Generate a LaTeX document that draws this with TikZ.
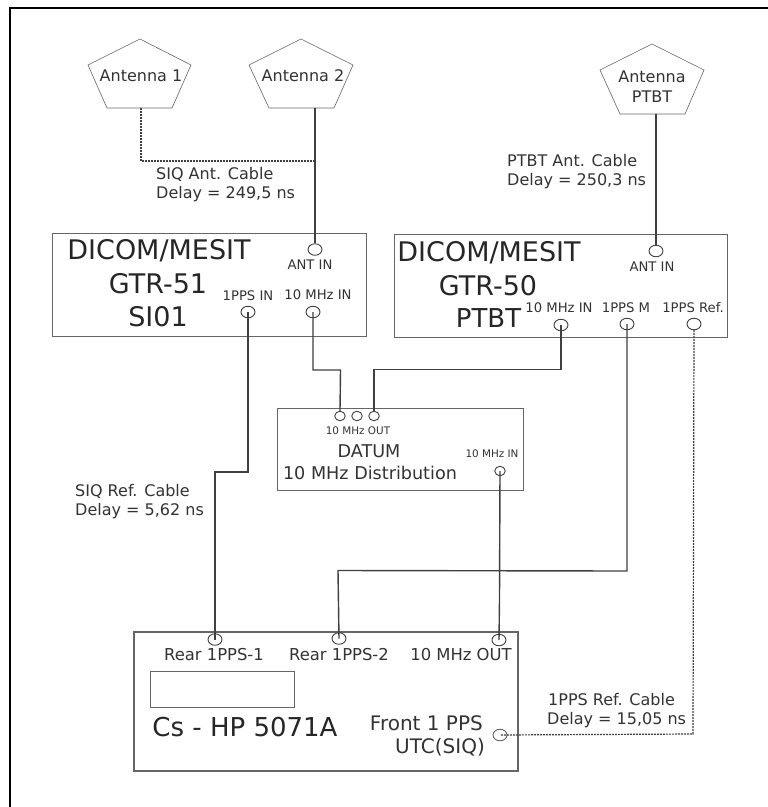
\documentclass[tikz,border=0pt]{standalone}
\usepackage{fontspec}
\setmainfont{DejaVu Sans}
\usetikzlibrary{shapes.geometric}
\definecolor{linec}{HTML}{404040}
\definecolor{boxc}{HTML}{666666}
\definecolor{textc}{HTML}{333333}
\tikzset{
  x=1pt,y=-1pt,
  box/.style={draw=boxc,line width=1pt},
  ant/.style={draw=boxc,line width=0.6pt,fill=white},
  wire/.style={draw=linec,line width=1.4pt},
  dotw/.style={draw=linec,line width=1.2pt,dash pattern=on 2pt off 1pt},
  port/.style={ellipse,draw=linec,line width=0.9pt,minimum width=14pt,minimum height=11.5pt,inner sep=0pt},
  tiny/.style={inner sep=0pt,text=textc,font=\fontsize{13.2}{15}\selectfont},
  tinier/.style={inner sep=0pt,text=textc,font=\fontsize{10.4}{12}\selectfont},
  mid/.style={inner sep=0pt,text=textc,font=\fontsize{16}{18}\selectfont},
  midleft/.style={mid,anchor=west},
  midright/.style={mid,anchor=east},
  rear/.style={inner sep=0pt,text=textc,font=\fontsize{16.4}{18}\selectfont},
  big/.style={inner sep=0pt,text=black!85,font=\fontsize{27}{30}\selectfont},
  dist/.style={inner sep=0pt,text=textc,font=\fontsize{17.6}{20}\selectfont},
}
\begin{document}
\begin{tikzpicture}
\useasboundingbox (0,0) rectangle (768,807);
\fill[white] (0,0) rectangle (768,807);
% outer frame
\coordinate (fa) at (10,807);
\coordinate (fb) at (10,8);
\coordinate (fc) at (768,8);
\draw[black,line width=1.8pt] (fa) -- (fb) -- (fc);

% antennas
\coordinate (a1b) at (141,108);
\coordinate (a2b) at (315,108);
\coordinate (apb) at (656,114);
\draw[ant] (140,39) -- (191,65) -- (172,108) -- (107,108) -- (88,65) -- cycle;
\draw[ant] (301,39) -- (353,65) -- (334,108) -- (269,108) -- (249,65) -- cycle;
\draw[ant] (652,44) -- (704,70) -- (685,114) -- (620,114) -- (600,70) -- cycle;
\node[mid] (t1) at (141,76) {Antenna 1};
\node[mid] (t2) at (303,76) {Antenna 2};
\node[mid] (t3) at (652,77) {Antenna};
\node[mid] (t4) at (652,97) {PTBT};

% boxes
\draw[box] (52,233) rectangle (366,336);
\draw[box] (394,234) rectangle (727,337);
\draw[box,line width=0.8pt] (277,408) rectangle (523,490);
\draw[box,line width=1.2pt] (134,632) rectangle (518,771);
\draw[box] (150,671) rectangle (294,707);

% ports
\node[port] (antin1) at (315,249.5) {};
\node[port] (pps1) at (248,312) {};
\node[port] (mhz1) at (313,312) {};
\node[port] (antin2) at (656,251) {};
\node[port] (mhz2) at (561,325) {};
\node[port] (ppsm) at (627,324) {};
\node[port] (ppsr) at (694,324) {};
\node[port,minimum width=10.5pt,minimum height=9.5pt] (d1) at (340,416) {};
\node[port,minimum width=10.5pt,minimum height=9.5pt] (d2) at (357,416) {};
\node[port,minimum width=10.5pt,minimum height=9.5pt] (d3) at (374,416) {};
\node[port,minimum width=10.5pt,minimum height=9.5pt] (din) at (500,471) {};
\node[port] (r1) at (215,639.5) {};
\node[port] (r2) at (339,638.5) {};
\node[port] (mout) at (499,640) {};
\node[port,draw=boxc] (front) at (500,735) {};

% connectors
\coordinate (j) at (315,161);
\draw[dotw] (a1b) -- (141,161) -- (j);
\draw[wire] (a2b) -- (antin1.north);
\draw[wire] (apb) -- (antin2.north);
\draw[wire] (pps1.center) -- (248,472) -- (215,472) -- (r1.center);
\draw[wire] (mhz1.center) -- (313,370) -- (340.5,370) -- (d1.north);
\draw[wire] (mhz2.center) -- (561,369.5) -- (374,369.5) -- (d3.north);
\draw[wire] (din.center) -- (499.5,600) -- (mout.center);
\draw[wire] (ppsm.center) -- (627,571) -- (338,570.5) -- (r2.center);
\draw[dotw] (ppsr.south) -- (693,734) -- (front.center);

% labels
\node[midleft] (l1) at (156,174) {SIQ Ant. Cable};
\node[midleft] (l2) at (156,194) {Delay = 249,5 ns};
\node[midleft] (l3) at (507,161) {PTBT Ant. Cable};
\node[midleft] (l4) at (507,181) {Delay = 250,3 ns};
\node[midleft] (l5) at (75,491) {SIQ Ref. Cable};
\node[midleft] (l6) at (75,511) {Delay = 5,62 ns};
\node[midleft] (l7) at (548,700) {1PPS Ref. Cable};
\node[midleft] (l8) at (547,720) {Delay = 15,05 ns};

\node[big] (g1) at (159,251) {DICOM/MESIT};
\node[big] (g2) at (158,284) {GTR-51};
\node[big] (g3) at (158,317) {SI01};
\node[tiny] (p1) at (310,265) {ANT IN};
\node[tiny] (p2) at (248,296) {1PPS IN};
\node[tiny] (p3) at (318,295) {10 MHz IN};

\node[big] (h1) at (489,253) {DICOM/MESIT};
\node[big] (h2) at (488,286) {GTR-50};
\node[big,font=\fontsize{26}{30}\selectfont] (h3) at (488.5,318) {PTBT};
\node[tiny] (q1) at (652,267) {ANT IN};
\node[tiny] (q2) at (559,308) {10 MHz IN};
\node[tiny] (q3) at (626,308) {1PPS M};
\node[tiny] (q4) at (693,308) {1PPS Ref.};

\node[tinier] (d1t) at (358,431) {10 MHz OUT};
\node[dist] (d2t) at (369,451) {DATUM};
\node[dist] (d3t) at (370,473) {10 MHz Distribution};
\node[tinier] (d4t) at (492,454) {10 MHz IN};

\node[rear] (c1) at (214,655) {Rear 1PPS-1};
\node[rear] (c2) at (339,655) {Rear 1PPS-2};
\node[rear] (c3) at (461,655) {10 MHz OUT};
\node[big,font=\fontsize{26}{28}\selectfont] (c4) at (245,727) {Cs - HP 5071A};
\node[midright,font=\fontsize{20}{22}\selectfont] (c5) at (483,723) {Front 1 PPS};
\node[midright,font=\fontsize{20}{22}\selectfont] (c6) at (485,747) {UTC(SIQ)};
\end{tikzpicture}
\end{document}
